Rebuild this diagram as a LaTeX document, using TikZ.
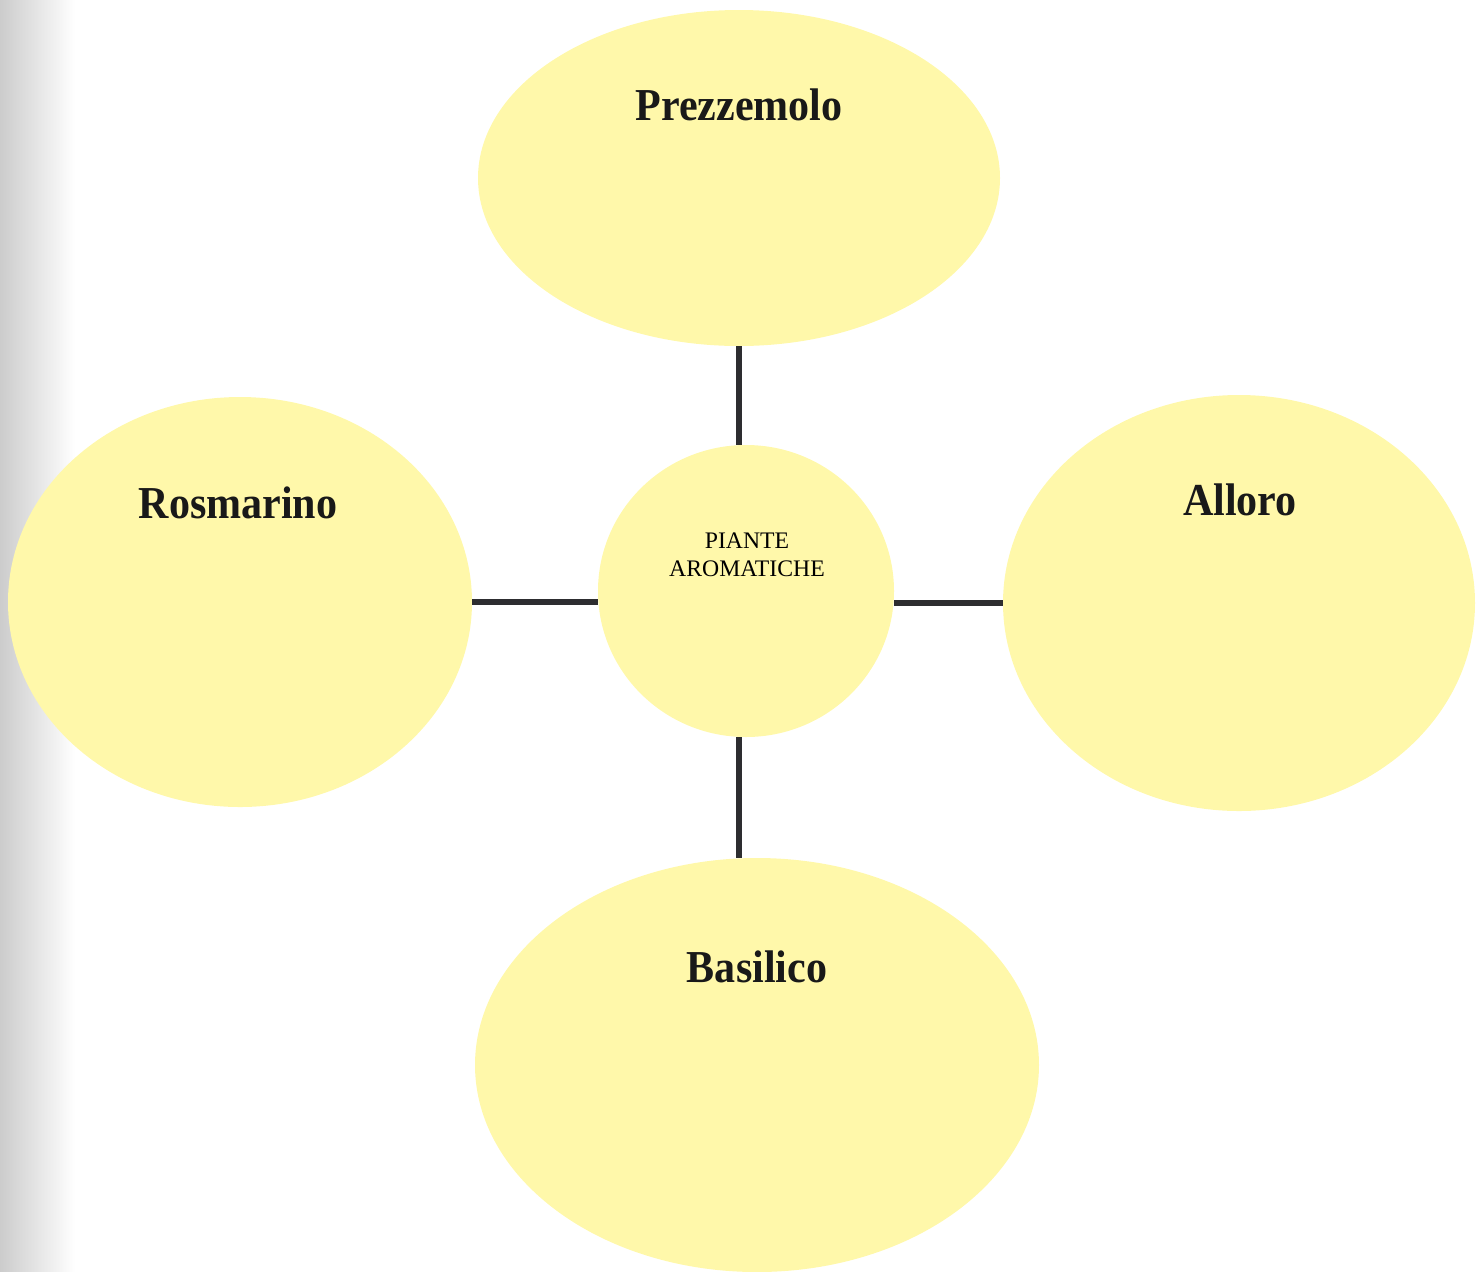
\documentclass[tikz,border=0pt]{standalone}
\usepackage{fontspec}
\setmainfont{Liberation Serif}
\newfontfamily\labfont[FakeStretch=0.92]{Liberation Serif}
\usetikzlibrary{shapes.geometric, positioning}
\definecolor{herbyellow}{RGB}{255, 248, 170}
\definecolor{linkgray}{RGB}{45, 45, 48}

\begin{document}
\begin{tikzpicture}[
  blob/.style={ellipse, fill=herbyellow, draw=none, inner sep=0pt},
  herb/.style={font=\labfont\bfseries\fontsize{26}{30}\selectfont, text=black!90},
  link/.style={draw=linkgray, line width=3.2pt}
]
  \useasboundingbox (0,0) rectangle (29.64,-25.42);
  % scanner edge on the left
  \shade[left color=black!20, right color=white] (0,0) rectangle (1.5,-25.42);

  \node[blob, minimum width=10.44cm, minimum height=6.72cm] (prez) at (14.78,-3.56) {};
  \node[blob, minimum width=9.28cm, minimum height=8.2cm] (rosm) at (4.80,-12.04) {};
  \node[blob, minimum width=5.92cm, minimum height=5.84cm] (centro) at (14.92,-11.82) {};
  \node[blob, minimum width=9.44cm, minimum height=8.32cm] (allo) at (24.78,-12.06) {};
  \node[blob, minimum width=11.28cm, minimum height=8.28cm] (basil) at (15.14,-21.30) {};

  \node[herb] (tprez) at (14.78,-2.10) {Prezzemolo};
  \node[herb] (trosm) at (4.76,-10.06) {Rosmarino};
  \node[herb] (tallo) at (24.80,-10.00) {Alloro};
  \node[herb] (tbasil) at (15.14,-19.34) {Basilico};
  \node[align=center, font=\fontsize{13.5}{16}\selectfont] (tcentro) at (14.94,-11.10) {PIANTE\\AROMATICHE};

  % connectors
  \draw[link] (prez.south) -- (prez.south |- centro.north);
  \draw[link] (rosm.east) -- (rosm.east -| centro.west);
  \draw[link] (centro.east |- allo.west) -- (allo.west);
  \draw[link] (centro.south -| prez.south) -- (basil.north -| prez.south);
\end{tikzpicture}
\end{document}
